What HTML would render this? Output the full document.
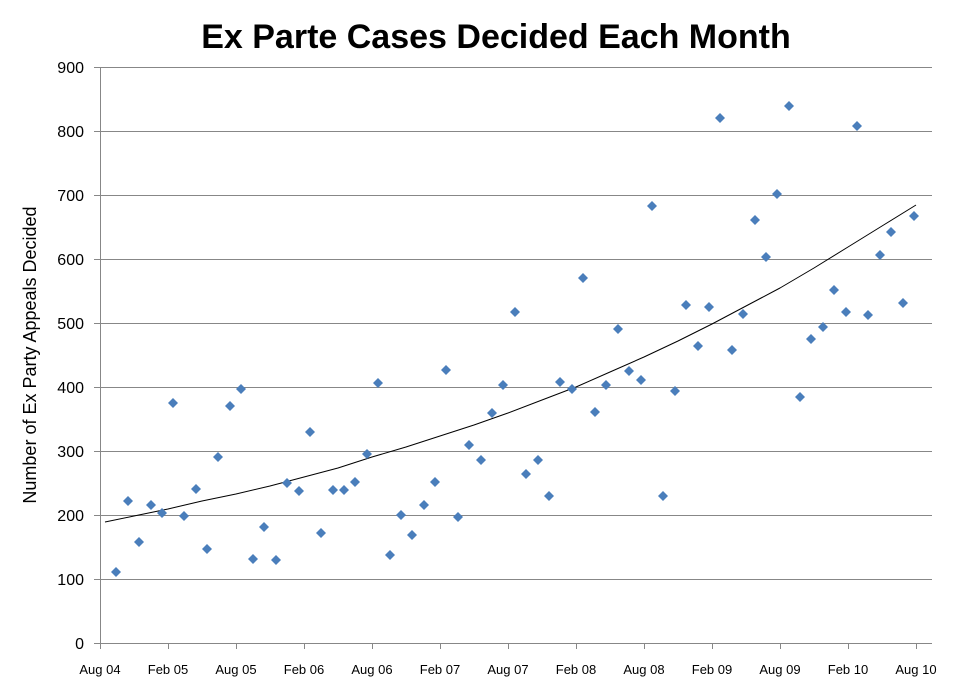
<!DOCTYPE html>
<html><head><style>body{margin:0;background:#fff}svg{display:block}</style></head><body>
<svg width="961" height="689" xmlns="http://www.w3.org/2000/svg" xmlns:xlink="http://www.w3.org/1999/xlink" font-family="Liberation Sans, sans-serif">
<defs><path id="d" d="M0,-5L5,0L0,5L-5,0Z" fill="#4a7ebb"/></defs>
<rect width="961" height="689" fill="#fff"/>
<text x="496" y="48" text-anchor="middle" font-size="34" font-weight="bold">Ex Parte Cases Decided Each Month</text>
<g stroke="#878787" stroke-width="1">
<line x1="100" y1="67.5" x2="932" y2="67.5"/><line x1="100" y1="131.5" x2="932" y2="131.5"/><line x1="100" y1="195.5" x2="932" y2="195.5"/><line x1="100" y1="259.5" x2="932" y2="259.5"/><line x1="100" y1="323.5" x2="932" y2="323.5"/><line x1="100" y1="387.5" x2="932" y2="387.5"/><line x1="100" y1="451.5" x2="932" y2="451.5"/><line x1="100" y1="515.5" x2="932" y2="515.5"/><line x1="100" y1="579.5" x2="932" y2="579.5"/><line x1="94" y1="643.5" x2="932" y2="643.5"/>
<line x1="100.5" y1="67" x2="100.5" y2="649"/>
<line x1="94" y1="67.5" x2="100" y2="67.5"/><line x1="94" y1="131.5" x2="100" y2="131.5"/><line x1="94" y1="195.5" x2="100" y2="195.5"/><line x1="94" y1="259.5" x2="100" y2="259.5"/><line x1="94" y1="323.5" x2="100" y2="323.5"/><line x1="94" y1="387.5" x2="100" y2="387.5"/><line x1="94" y1="451.5" x2="100" y2="451.5"/><line x1="94" y1="515.5" x2="100" y2="515.5"/><line x1="94" y1="579.5" x2="100" y2="579.5"/>
<line x1="168.5" y1="643" x2="168.5" y2="649"/><line x1="236.5" y1="643" x2="236.5" y2="649"/><line x1="304.5" y1="643" x2="304.5" y2="649"/><line x1="372.5" y1="643" x2="372.5" y2="649"/><line x1="440.5" y1="643" x2="440.5" y2="649"/><line x1="508.5" y1="643" x2="508.5" y2="649"/><line x1="576.5" y1="643" x2="576.5" y2="649"/><line x1="644.5" y1="643" x2="644.5" y2="649"/><line x1="712.5" y1="643" x2="712.5" y2="649"/><line x1="780.5" y1="643" x2="780.5" y2="649"/><line x1="848.5" y1="643" x2="848.5" y2="649"/><line x1="916.5" y1="643" x2="916.5" y2="649"/>
</g>
<g font-size="16" text-anchor="end" fill="#000">
<text x="84" y="73">900</text><text x="84" y="137">800</text><text x="84" y="201">700</text><text x="84" y="265">600</text><text x="84" y="329">500</text><text x="84" y="393">400</text><text x="84" y="457">300</text><text x="84" y="521">200</text><text x="84" y="585">100</text><text x="84" y="649">0</text>
</g>
<g font-size="13" text-anchor="middle" fill="#000">
<text x="100" y="674">Aug 04</text><text x="168" y="674">Feb 05</text><text x="236" y="674">Aug 05</text><text x="304" y="674">Feb 06</text><text x="372" y="674">Aug 06</text><text x="440" y="674">Feb 07</text><text x="508" y="674">Aug 07</text><text x="576" y="674">Feb 08</text><text x="644" y="674">Aug 08</text><text x="712" y="674">Feb 09</text><text x="780" y="674">Aug 09</text><text x="848" y="674">Feb 10</text><text x="916" y="674">Aug 10</text>
</g>
<text transform="translate(36,355) rotate(-90)" text-anchor="middle" font-size="18">Number of Ex Party Appeals Decided</text>
<polyline points="105,522 134,516 168,509 202,501 236,494 270,486 304,477 338,468 372,457 406,447 440,436 474,425 508,413 542,400 576,387 610,372 644,357 678,341 712,324 746,306 780,288 814,268 848,247 882,226 916,205" fill="none" stroke="#000" stroke-width="1" stroke-linejoin="round"/>
<g>
<use xlink:href="#d" x="116" y="572"/><use xlink:href="#d" x="128" y="501"/><use xlink:href="#d" x="139" y="542"/><use xlink:href="#d" x="151" y="505"/><use xlink:href="#d" x="162" y="513"/><use xlink:href="#d" x="173" y="403"/><use xlink:href="#d" x="184" y="516"/><use xlink:href="#d" x="196" y="489"/><use xlink:href="#d" x="207" y="549"/><use xlink:href="#d" x="218" y="457"/><use xlink:href="#d" x="230" y="406"/><use xlink:href="#d" x="241" y="389"/><use xlink:href="#d" x="253" y="559"/><use xlink:href="#d" x="264" y="527"/><use xlink:href="#d" x="276" y="560"/><use xlink:href="#d" x="287" y="483"/><use xlink:href="#d" x="299" y="491"/><use xlink:href="#d" x="310" y="432"/><use xlink:href="#d" x="321" y="533"/><use xlink:href="#d" x="333" y="490"/><use xlink:href="#d" x="344" y="490"/><use xlink:href="#d" x="355" y="482"/><use xlink:href="#d" x="367" y="454"/><use xlink:href="#d" x="378" y="383"/><use xlink:href="#d" x="390" y="555"/><use xlink:href="#d" x="401" y="515"/><use xlink:href="#d" x="412" y="535"/><use xlink:href="#d" x="424" y="505"/><use xlink:href="#d" x="435" y="482"/><use xlink:href="#d" x="446" y="370"/><use xlink:href="#d" x="458" y="517"/><use xlink:href="#d" x="469" y="445"/><use xlink:href="#d" x="481" y="460"/><use xlink:href="#d" x="492" y="413"/><use xlink:href="#d" x="503" y="385"/><use xlink:href="#d" x="515" y="312"/><use xlink:href="#d" x="526" y="474"/><use xlink:href="#d" x="538" y="460"/><use xlink:href="#d" x="549" y="496"/><use xlink:href="#d" x="560" y="382"/><use xlink:href="#d" x="572" y="389"/><use xlink:href="#d" x="583" y="278"/><use xlink:href="#d" x="595" y="412"/><use xlink:href="#d" x="606" y="385"/><use xlink:href="#d" x="618" y="329"/><use xlink:href="#d" x="629" y="371"/><use xlink:href="#d" x="641" y="380"/><use xlink:href="#d" x="652" y="206"/><use xlink:href="#d" x="663" y="496"/><use xlink:href="#d" x="675" y="391"/><use xlink:href="#d" x="686" y="305"/><use xlink:href="#d" x="698" y="346"/><use xlink:href="#d" x="709" y="307"/><use xlink:href="#d" x="720" y="118"/><use xlink:href="#d" x="732" y="350"/><use xlink:href="#d" x="743" y="314"/><use xlink:href="#d" x="755" y="220"/><use xlink:href="#d" x="766" y="257"/><use xlink:href="#d" x="777" y="194"/><use xlink:href="#d" x="789" y="106"/><use xlink:href="#d" x="800" y="397"/><use xlink:href="#d" x="811" y="339"/><use xlink:href="#d" x="823" y="327"/><use xlink:href="#d" x="834" y="290"/><use xlink:href="#d" x="846" y="312"/><use xlink:href="#d" x="857" y="126"/><use xlink:href="#d" x="868" y="315"/><use xlink:href="#d" x="880" y="255"/><use xlink:href="#d" x="891" y="232"/><use xlink:href="#d" x="903" y="303"/><use xlink:href="#d" x="914" y="216"/>
</g>
</svg>
</body></html>
